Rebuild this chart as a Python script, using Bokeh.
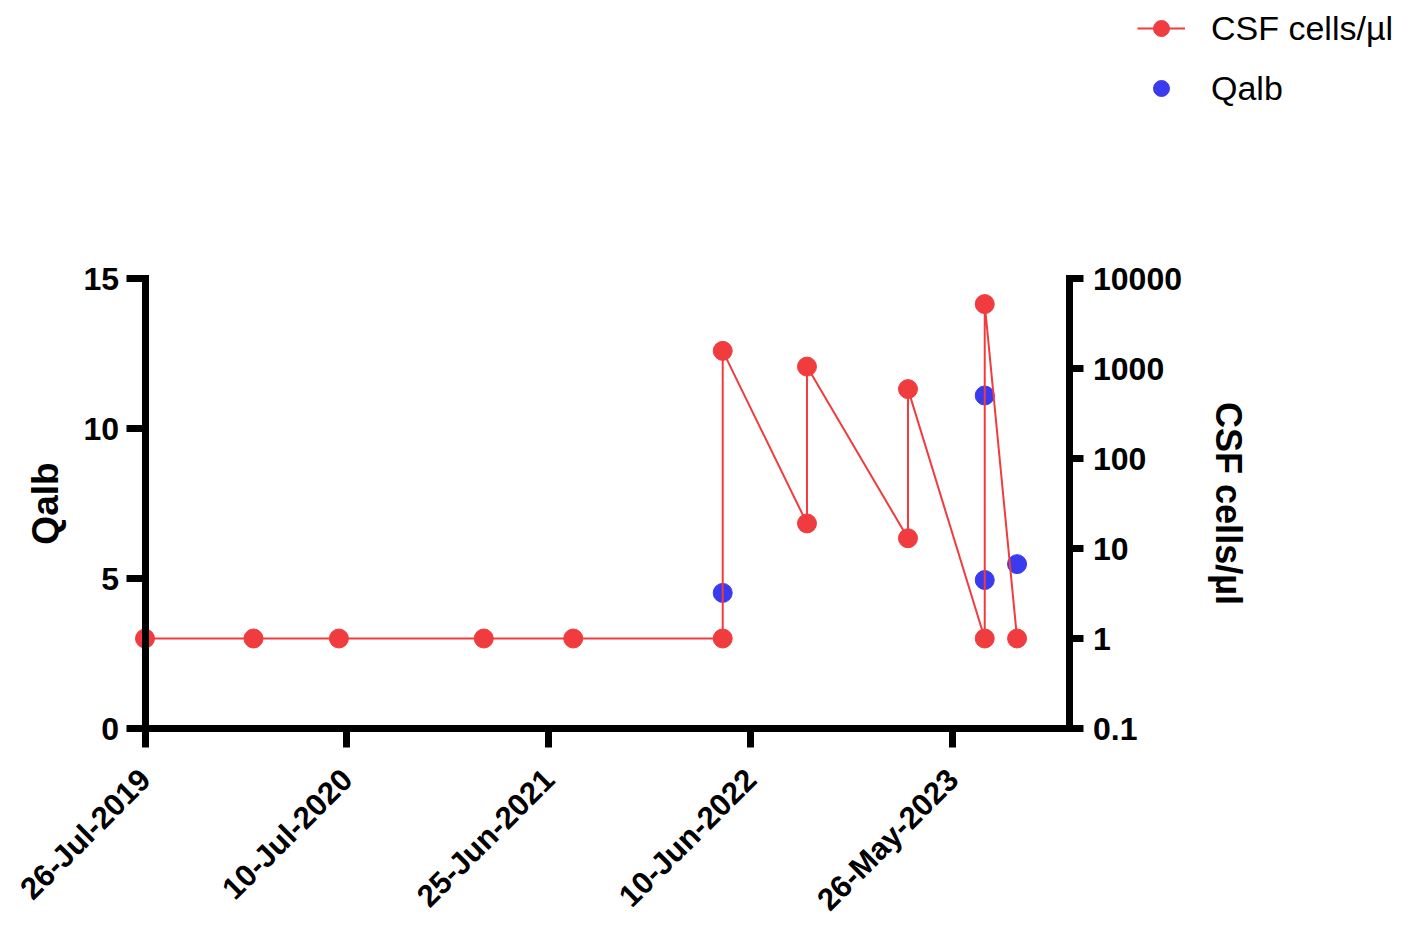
from datetime import datetime, timedelta
from math import pi
from bokeh.plotting import figure
from bokeh.models import (Range1d, LogScale, LogAxis, FixedTicker,
                          DatetimeTickFormatter, CustomJSTickFormatter, Legend, LegendItem)
from bokeh.embed import file_html
from bokeh.resources import INLINE

# ---- data ----
csf_dates = ["2019-07-26", "2020-01-30", "2020-06-26", "2021-03-04", "2021-08-06",
             "2022-04-22", "2022-04-22", "2022-09-15", "2022-09-15", "2023-03-09",
             "2023-03-09", "2023-07-20", "2023-07-20", "2023-09-14"]
csf_values = [1, 1, 1, 1, 1, 1, 1570, 19, 1050, 13, 590, 1, 5200, 1]

qalb_dates = ["2022-04-22", "2023-07-20", "2023-07-20", "2023-09-14"]
qalb_values = [4.52, 11.1, 4.95, 5.48]

x_tick_dates = ["2019-07-26", "2020-07-10", "2021-06-25", "2022-06-10", "2023-05-26"]
qalb_ticks = [0, 5, 10, 15]
csf_ticks = [0.1, 1, 10, 100, 1000, 10000]

x_start, x_axis_end = "2019-07-26", "2023-12-13"
qalb_bounds = (0, 15)
csf_bounds = (0.1, 10000)

EPOCH = datetime(1970, 1, 1)

def d(s):
    return datetime.strptime(s, "%Y-%m-%d")

def ms(s):
    return (d(s) - EPOCH).total_seconds() * 1000.0

RED = "#F03C3E"
BLUE = "#3A3AEE"
FONT = "Liberation Sans"

# ---- layout geometry (pixels); the frame fills the whole figure ----
W, H = 1401, 919
AX_LEFT, AX_RIGHT = 144.5, 1068.5    # x of the two vertical axes
AX_TOP, AX_BOTTOM = 278.0, 728.0     # y (from top) of 15 / 0 on the axes

days_axis = (d(x_axis_end) - d(x_start)).days
px_per_day = (AX_RIGHT - AX_LEFT) / days_axis
x0 = d(x_start) - timedelta(days=AX_LEFT / px_per_day)
x1 = d(x_start) + timedelta(days=(W - AX_LEFT) / px_per_day)
px_per_unit = (AX_BOTTOM - AX_TOP) / (qalb_bounds[1] - qalb_bounds[0])
y0 = qalb_bounds[0] - (H - AX_BOTTOM) / px_per_unit
y1 = qalb_bounds[0] + AX_BOTTOM / px_per_unit
px_per_decade = (AX_BOTTOM - AX_TOP) / 5.0
c0 = csf_bounds[0] * 10 ** (-(H - AX_BOTTOM) / px_per_decade)
c1 = csf_bounds[0] * 10 ** (AX_BOTTOM / px_per_decade)

p = figure(width=W, height=H, output_backend="svg", toolbar_location=None,
           x_axis_type="datetime",
           x_range=Range1d(x0, x1),
           y_range=Range1d(y0, y1),
           min_border=0)
p.extra_y_ranges = {"csf": Range1d(c0, c1)}
p.extra_y_scales = {"csf": LogScale()}
p.outline_line_color = None
p.xgrid.visible = False
p.ygrid.visible = False

def style_axis(ax, tick_out=19):
    ax.axis_line_width = 7
    ax.axis_line_cap = "square"
    ax.major_tick_line_width = 7
    ax.major_tick_out = tick_out
    ax.major_tick_in = 0
    ax.minor_tick_line_color = None
    ax.major_label_text_font = FONT
    ax.major_label_text_font_style = "bold"
    ax.major_label_text_font_size = "32px"
    ax.major_label_text_color = "black"
    ax.axis_label_text_font = FONT
    ax.axis_label_text_font_style = "bold"
    ax.axis_label_text_font_size = "36px"
    ax.axis_label_text_color = "black"

# x axis, drawn at Qalb = 0
xa = p.xaxis[0]
style_axis(xa)
xa.fixed_location = qalb_bounds[0]
xa.bounds = (ms(x_start), ms(x_axis_end))
xa.ticker = FixedTicker(ticks=[ms(t) for t in x_tick_dates])
fmt = "%d-%b-%Y"
xa.formatter = DatetimeTickFormatter(milliseconds=fmt, seconds=fmt, minsec=fmt, minutes=fmt,
                                     hourmin=fmt, hours=fmt, days=fmt, months=fmt, years=fmt)
xa.major_label_orientation = pi / 4
xa.major_label_text_font_size = "31px"
xa.major_label_standoff = 27

# left axis, drawn at the first date
ya = p.yaxis[0]
style_axis(ya)
ya.fixed_location = ms(x_start)
ya.bounds = qalb_bounds
ya.ticker = FixedTicker(ticks=qalb_ticks)
ya.axis_label = "Qalb"
ya.axis_label_text_font_size = "37px"
ya.major_label_standoff = 7
ya.axis_label_standoff = 15

# right log axis, drawn at the end of the x axis
ra = LogAxis(y_range_name="csf", fixed_location=ms(x_axis_end), bounds=csf_bounds)
style_axis(ra, tick_out=14)
ra.ticker = FixedTicker(ticks=csf_ticks)
ra.formatter = CustomJSTickFormatter(code="return String(tick);")
ra.axis_label = "CSF cells/µl"
ra.major_label_standoff = 10
ra.axis_label_standoff = 23
p.add_layout(ra, "right")

# glyphs
qx = [d(s) for s in qalb_dates]
cx = [d(s) for s in csf_dates]
q_r = p.scatter(qx, qalb_values, size=19, marker="circle", fill_color=BLUE, line_color=BLUE)
c_line = p.line(cx, csf_values, y_range_name="csf", line_color=RED, line_width=2)
c_pts = p.scatter(cx, csf_values, y_range_name="csf", size=19, marker="circle",
                  fill_color=RED, line_color=RED)

LEG_H = 100
legend = Legend(items=[LegendItem(label="CSF cells/µl", renderers=[c_line, c_pts]),
                       LegendItem(label="Qalb", renderers=[q_r])],
                location=(1137, H - 8 - LEG_H), orientation="vertical")
legend.border_line_color = None
legend.background_fill_alpha = 0
legend.padding = 0
legend.margin = 0
legend.glyph_width = 48
legend.glyph_height = 40
legend.label_height = 40
legend.spacing = 20
legend.label_standoff = 26
legend.label_text_font = FONT
legend.label_text_font_size = "34px"
legend.label_text_color = "black"
p.add_layout(legend, "center")

open("out.html", "w").write(file_html(p, INLINE))
